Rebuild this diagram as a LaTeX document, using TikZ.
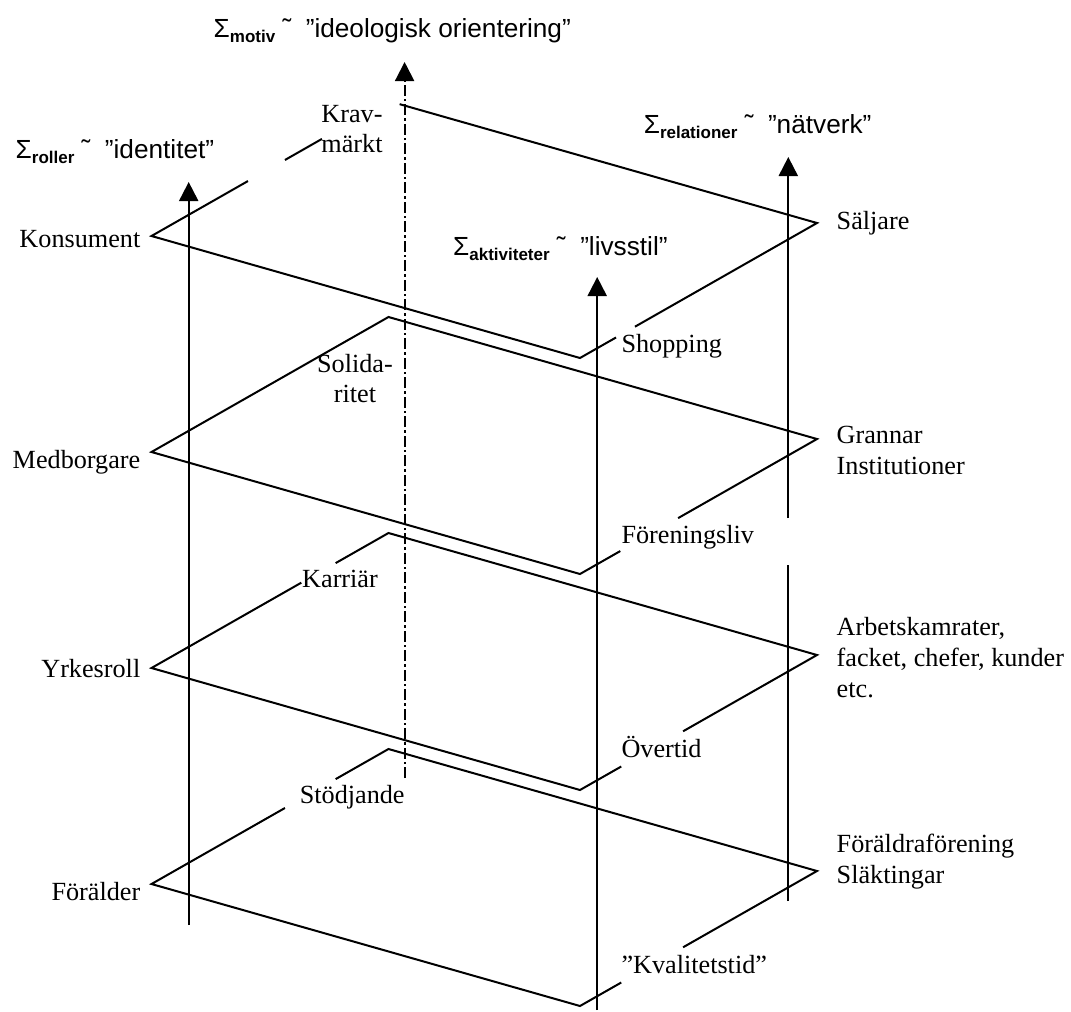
\documentclass[tikz,border=0pt]{standalone}
\usepackage{fontspec}
\setmainfont{Liberation Serif}
\setsansfont{Liberation Sans}
\usetikzlibrary{arrows.meta,calc}
% lowered bold index after a sum sign
\newcommand{\sumidx}[1]{\raisebox{-5pt}{\fontsize{17}{20}\selectfont\bfseries #1}}
% stacked lines, first baseline on the node's base
\newcommand{\lines}[2]{\begin{tabular}[t]{@{}#1@{}}#2\end{tabular}}
\begin{document}
\begin{tikzpicture}[x=1pt,y=-1pt,
  edge/.style={line width=2pt,line join=miter},
  axis/.style={line width=2pt,-{Triangle[width=19pt,length=19pt]}},
  dashaxis/.style={axis,dash pattern=on 11pt off 3pt on 2.5pt off 3pt},
  lbl/.style={inner sep=0pt,font=\fontsize{26.2}{31}\selectfont},
  lblc/.style={inner sep=0pt,anchor=base,font=\fontsize{26.2}{30}\selectfont},
  sumlbl/.style={inner sep=0pt,anchor=base west,font=\sffamily\fontsize{26.2}{31}\selectfont}]

\useasboundingbox (0,0) rectangle (1071,1012);

% corners of the four stacked planes
\foreach \i/\y in {1/236,2/452,3/668,4/884}{
  \coordinate (L\i) at (151.5,\y);
  \coordinate (T\i) at (388.5,\y-135);
  \coordinate (R\i) at (817,\y-13);
  \coordinate (B\i) at (580,\y+122);
}

% plane 1: Konsument
\draw[edge] ($(R1)!0.848!(B1)$) -- (B1) -- (L1) -- ($(L1)!0.407!(T1)$);
\draw[edge] ($(L1)!0.563!(T1)$) -- ($(L1)!0.719!(T1)$);
\draw[edge] ($(T1)!0.026!(R1)$) -- (R1) -- ($(R1)!0.768!(B1)$);

% plane 2: Medborgare
\draw[edge] ($(R2)!0.83!(B2)$) -- (B2) -- (L2) -- (T2) -- (R2) -- ($(R2)!0.586!(B2)$);

% plane 3: Yrkesroll
\draw[edge] ($(L3)!0.777!(T3)$) -- (T3) -- (R3) -- ($(R3)!0.565!(B3)$);
\draw[edge] ($(R3)!0.826!(B3)$) -- (B3) -- (L3) -- ($(L3)!0.632!(T3)$);

% plane 4: Förälder
\draw[edge] ($(L4)!0.777!(T4)$) -- (T4) -- (R4) -- ($(R4)!0.565!(B4)$);
\draw[edge] ($(R4)!0.826!(B4)$) -- (B4) -- (L4) -- ($(L4)!0.563!(T4)$);

% vertical axes
\coordinate (rolTip) at (188.7,182);
\coordinate (rolFoot) at (188.7,925);
\coordinate (motTip) at (404.6,62);
\coordinate (motFoot) at (404.6,778);
\coordinate (aktTip) at (597.2,277);
\coordinate (aktFoot) at (597.2,1010);
\coordinate (relTip) at (788.3,157);
\coordinate (relFoot) at (788.3,901);
\coordinate (relGapLo) at (788.3,565);
\coordinate (relGapHi) at (788.3,518);

\draw[axis] (rolFoot) -- (rolTip);
\draw[dashaxis] (motFoot) -- (motTip);
\draw[axis] (aktFoot) -- (aktTip);
\draw[axis] (relFoot) -- (relGapLo) (relGapHi) -- (relTip);

% axis captions
\node[sumlbl] (sMotiv) at (213.5,37.5) {Σ\sumidx{motiv} ˜\ \ ”ideologisk orientering”};
\node[sumlbl] (sRoller) at (15.5,158) {Σ\sumidx{roller} ˜\ \ ”identitet”};
\node[sumlbl] (sAkt) at (453,255) {Σ\sumidx{aktiviteter} ˜\ \ ”livsstil”};
\node[sumlbl] (sRel) at (643.6,133) {Σ\sumidx{relationer} ˜\ \ ”nätverk”};

% roles on the left corners
\node[lbl,anchor=base east] (konsument) at (140.5,247) {Konsument};
\node[lbl,anchor=base east] (medborgare) at (140.5,468) {Medborgare};
\node[lbl,anchor=base east] (yrkesroll) at (140.5,677) {Yrkesroll};
\node[lbl,anchor=base east] (foralder) at (140.5,900) {Förälder};

% relations on the right corners
\node[lbl,anchor=base west] (saljare) at (836.5,229) {Säljare};
\node[lbl,anchor=base west] (grannar) at (836.5,443) {\lines{l}{Grannar\\Institutioner}};
\node[lbl,anchor=base west] (arbets) at (836.5,635) {\lines{l}{Arbetskamrater,\\facket, chefer, kunder\\etc.}};
\node[lbl,anchor=base west] (forening) at (836.5,852) {\lines{l}{Föräldraförening\\Släktingar}};

% motives at the top corners
\node[lblc] (krav) at (352,122) {\lines{c}{Krav-\\märkt}};
\node[lblc] (solid) at (355,372) {\lines{c}{Solida-\\ritet}};
\node[lbl,anchor=base west] (karriar) at (302,587) {Karriär};
\node[lbl,anchor=base west] (stodjande) at (299.6,803) {Stödjande};

% activities at the bottom corners
\node[lbl,anchor=base west] (shopping) at (621.3,352) {Shopping};
\node[lbl,anchor=base west] (foreningsliv) at (621.3,543) {Föreningsliv};
\node[lbl,anchor=base west] (overtid) at (621.3,757) {Övertid};
\node[lbl,anchor=base west] (kvalitet) at (621.3,973) {”Kvalitetstid”};
\end{tikzpicture}
\end{document}
